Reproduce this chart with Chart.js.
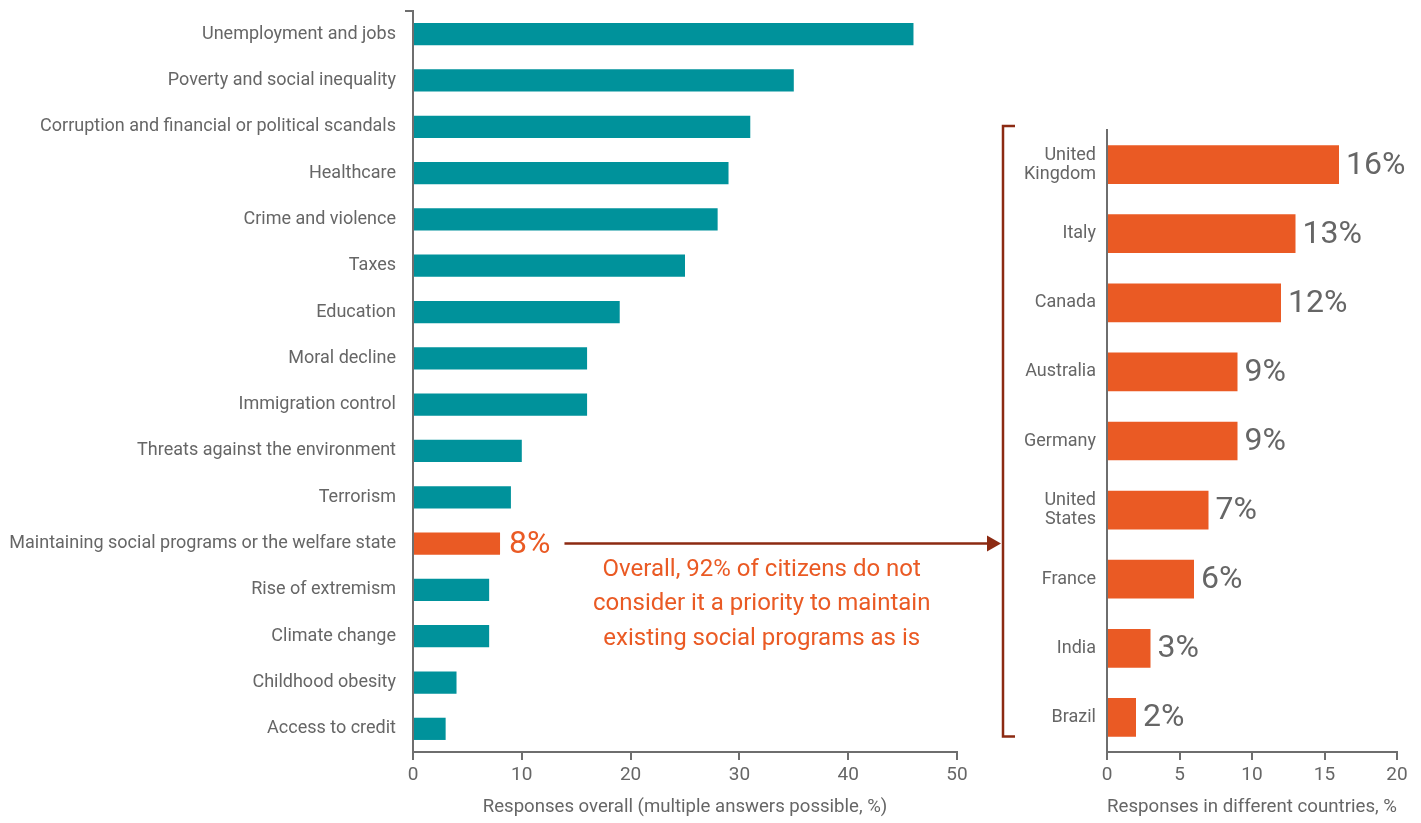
<!DOCTYPE html>
<html><head><meta charset="utf-8">
<script src="https://cdn.jsdelivr.net/npm/chart.js@4.4.1/dist/chart.umd.min.js"></script>
<style>
html,body{margin:0;padding:0;background:#fff;width:1421px;height:823px;overflow:hidden;}
#c1{position:absolute;left:0;top:0;}
#c2{position:absolute;left:1000px;top:0;}
#ov{position:absolute;left:0;top:0;pointer-events:none;}
</style></head><body>
<canvas id="c1" width="1000" height="823"></canvas>
<canvas id="c2" width="421" height="823"></canvas>
<canvas id="ov" width="1421" height="823"></canvas>
<script>
const issues = [
  "Unemployment and jobs",
  "Poverty and social inequality",
  "Corruption and financial or political scandals",
  "Healthcare",
  "Crime and violence",
  "Taxes",
  "Education",
  "Moral decline",
  "Immigration control",
  "Threats against the environment",
  "Terrorism",
  "Maintaining social programs or the welfare state",
  "Rise of extremism",
  "Climate change",
  "Childhood obesity",
  "Access to credit"
];
const overallValues = [46, 35, 31, 29, 28, 25, 19, 16, 16, 10, 9, 8, 7, 7, 4, 3];
const highlightIssue = "Maintaining social programs or the welfare state";

const countries = [["United", "Kingdom"], "Italy", "Canada", "Australia", "Germany", ["United", "States"], "France", "India", "Brazil"];
const countryValues = [16, 13, 12, 9, 9, 7, 6, 3, 2];

const overallTicks = [0, 10, 20, 30, 40, 50];
const countryTicks = [0, 5, 10, 15, 20];
const overallTitle = "Responses overall (multiple answers possible, %)";
const countryTitle = "Responses in different countries, %";
const noteLines = ["Overall, 92% of citizens do not", "consider it a priority to maintain", "existing social programs as is"];

const TEAL = "#00929B";
const ORANGE = "#EA5A24";
const DARKRED = "#8C2A12";
const GREY = "#666666";
const AXIS = "#6e6e6e";
const FONT = "Roboto, 'Open Sans', sans-serif";

const valueLabels = {
  id: 'valueLabels',
  afterDatasetsDraw(chart, args, opts) {
    const ctx = chart.ctx;
    const meta = chart.getDatasetMeta(0);
    ctx.save();
    ctx.font = opts.font;
    ctx.textBaseline = 'middle';
    ctx.textAlign = 'left';
    ctx.fillStyle = opts.color;
    meta.data.forEach((bar, i) => {
      if (opts.only != null && i !== opts.only) return;
      ctx.fillText(chart.data.datasets[0].data[i] + '%', bar.x + opts.offset, bar.y + 1);
    });
    ctx.restore();
  }
};

const hiIndex = issues.indexOf(highlightIssue);

function xScale(ticks, title, titleSize) {
  return {
    type: 'linear',
    min: ticks[0],
    max: ticks[ticks.length - 1],
    afterBuildTicks: (s) => { s.ticks = ticks.map(v => ({ value: v })); },
    border: { display: true, color: AXIS, width: 2 },
    grid: { display: true, drawOnChartArea: false, drawTicks: true, tickLength: 8, color: AXIS, lineWidth: 2 },
    ticks: { color: GREY, font: { family: FONT, size: 19 }, padding: 4, maxRotation: 0 },
    title: { display: true, text: title, color: GREY, font: { family: FONT, size: titleSize }, padding: { top: 4, bottom: 4 } },
    afterFit: (s) => { s.height = 71; }
  };
}

const chart1 = new Chart(document.getElementById('c1'), {
  type: 'bar',
  data: {
    labels: issues,
    datasets: [{
      data: overallValues,
      backgroundColor: (c) => c.index === hiIndex ? ORANGE : TEAL,
      borderWidth: 0,
      categoryPercentage: 1,
      barPercentage: 0.48
    }]
  },
  options: {
    indexAxis: 'y',
    responsive: false,
    animation: false,
    layout: { padding: { top: 11, right: 43, left: 0, bottom: 0 } },
    plugins: {
      legend: { display: false },
      tooltip: { enabled: false },
      valueLabels: { font: "32px " + FONT, color: ORANGE, offset: 9, only: hiIndex }
    },
    scales: {
      x: xScale(overallTicks, overallTitle, 18.6),
      y: {
        type: 'category',
        border: { display: true, color: AXIS, width: 2 },
        grid: {
          display: true, drawOnChartArea: false, drawTicks: true, tickLength: 8, lineWidth: 2,
          color: (c) => (c.index === 0 || c.index === issues.length) ? AXIS : 'rgba(0,0,0,0)'
        },
        ticks: { color: GREY, font: { family: FONT, size: 18 }, padding: 9, autoSkip: false },
        afterFit: (s) => { s.width = 413; s.paddingTop = 0; s.paddingBottom = 0; }
      }
    }
  },
  plugins: [valueLabels]
});

const chart2 = new Chart(document.getElementById('c2'), {
  type: 'bar',
  data: {
    labels: countries,
    datasets: [{
      data: countryValues,
      backgroundColor: ORANGE,
      borderWidth: 0,
      categoryPercentage: 1,
      barPercentage: 0.56
    }]
  },
  options: {
    indexAxis: 'y',
    responsive: false,
    animation: false,
    layout: { padding: { top: 130, right: 24, left: 0, bottom: 0 } },
    plugins: {
      legend: { display: false },
      tooltip: { enabled: false },
      valueLabels: { font: "32px " + FONT, color: GREY, offset: 7 }
    },
    scales: {
      x: xScale(countryTicks, countryTitle, 18.7),
      y: {
        type: 'category',
        border: { display: true, color: AXIS, width: 2 },
        grid: { display: false, drawTicks: false },
        ticks: { color: GREY, font: { family: FONT, size: 18, lineHeight: 1.05 }, padding: 11, autoSkip: false },
        afterFit: (s) => { s.width = 107; s.paddingTop = 0; s.paddingBottom = 0; }
      }
    }
  },
  plugins: [valueLabels]
});

(function drawOverlay() {
  const o = document.getElementById('ov').getContext('2d');
  const bar = chart1.getDatasetMeta(0).data[hiIndex];
  const y = bar.y;
  o.font = "32px " + FONT;
  const lblW = o.measureText(overallValues[hiIndex] + '%').width;
  const xStart = bar.x + 9 + lblW + 14;
  const c2left = 1000;
  const area2 = chart2.chartArea;
  const bx = c2left + area2.left - 104;
  const tip = bx - 2;

  o.strokeStyle = DARKRED;
  o.fillStyle = DARKRED;
  o.lineWidth = 2.5;
  o.beginPath();
  o.moveTo(xStart, y);
  o.lineTo(tip - 12, y);
  o.stroke();
  o.beginPath();
  o.moveTo(tip, y);
  o.lineTo(tip - 14, y - 8);
  o.lineTo(tip - 14, y + 8);
  o.closePath();
  o.fill();

  const bTop = area2.top - 4;
  const bBot = chart2.getDatasetMeta(0).data[countries.length - 1].y + 19;
  o.beginPath();
  o.moveTo(bx + 12, bTop);
  o.lineTo(bx, bTop);
  o.lineTo(bx, bBot);
  o.lineTo(bx + 12, bBot);
  o.stroke();

  o.font = "24px " + FONT;
  o.fillStyle = ORANGE;
  o.textAlign = 'center';
  o.textBaseline = 'middle';
  const cx = (xStart + tip) / 2 - 21;
  noteLines.forEach((t, i) => o.fillText(t, cx, y + 26 + i * 34.5));
})();
</script>
</body></html>
